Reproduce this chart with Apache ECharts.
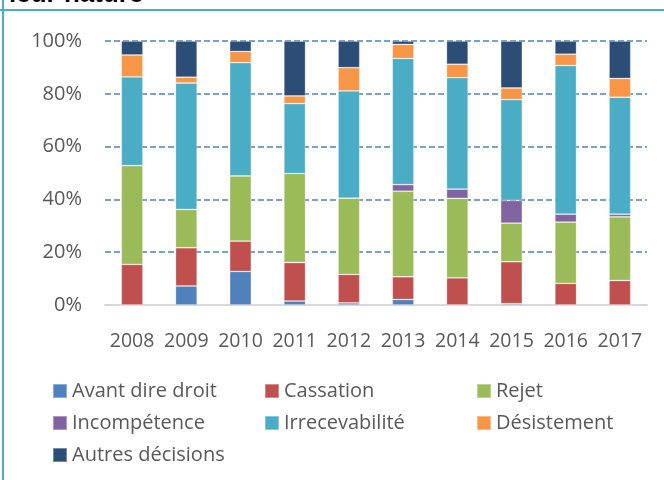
<!DOCTYPE html>
<html>
  <head>
    <meta charset="utf-8" />
    <title>Décisions selon leur nature</title>
    <script src="https://cdn.jsdelivr.net/npm/echarts@6/dist/echarts.min.js"></script>
    <style>
      body {
        margin: 0;
        padding: 0;
        background: #ffffff;
      }
      #main {
        width: 664px;
        height: 480px;
      }
    </style>
  </head>
  <body>
    <div id="main"></div>
    <script type="text/javascript">
      // données (en %)
      var annees = ["2008", "2009", "2010", "2011", "2012", "2013", "2014", "2015", "2016", "2017"];
      var avantDireDroit = [0, 7.2, 12.7, 1.5, 0.8, 2.1, 0, 0.5, 0, 0];
      var cassation = [15.4, 14.5, 11.5, 14.6, 10.8, 8.6, 10.3, 15.9, 8.2, 9.3];
      var rejet = [37.4, 14.5, 24.7, 33.7, 28.9, 32.4, 30.1, 14.6, 23.2, 24.1];
      var incompetence = [0, 0, 0, 0, 0, 2.5, 3.5, 8.6, 3.0, 1.0];
      var irrecevabilite = [33.6, 47.9, 42.9, 26.5, 40.6, 47.8, 42.2, 38.2, 56.3, 44.3];
      var desistement = [8.3, 2.2, 4.2, 2.9, 8.8, 5.3, 5.1, 4.4, 4.3, 7.1];
      var autres = [5.3, 13.7, 4.0, 20.8, 10.1, 1.3, 8.8, 17.8, 5.0, 14.2];

      var noms = ["Avant dire droit", "Cassation", "Rejet", "Incompétence", "Irrecevabilité", "Désistement", "Autres décisions"];
      var couleurs = ["#4f81bd", "#c0504d", "#9bbb59", "#8064a2", "#4bacc6", "#f79646", "#2c4d75"];
      var valeurs = [avantDireDroit, cassation, rejet, incompetence, irrecevabilite, desistement, autres];

      var police = "'Open Sans', sans-serif";
      var gris = "#595959";

      var myChart = echarts.init(document.getElementById("main"));

      // une légende par colonne
      function legende(left, data) {
        return {
          orient: "vertical",
          left: left,
          top: 376,
          itemWidth: 14,
          itemHeight: 14,
          itemGap: 12,
          icon: "rect",
          data: data,
          textStyle: { fontFamily: police, fontSize: 20, lineHeight: 20, color: gris },
        };
      }

      var option = {
        animation: false,
        grid: { left: 105, right: 17, top: 41, bottom: 175 },
        legend: [
          legende(47, [noms[0], noms[3], noms[6]]),
          legende(259, [noms[1], noms[4]]),
          legende(471, [noms[2], noms[5]]),
        ],
        xAxis: {
          type: "category",
          data: annees,
          axisLine: { lineStyle: { color: "#d9d9d9", width: 2 } },
          axisTick: { show: false },
          axisLabel: { interval: 0, fontFamily: police, fontSize: 19.5, color: gris, margin: 26 },
        },
        yAxis: {
          type: "value",
          min: 0,
          max: 100,
          interval: 20,
          axisLine: { show: false },
          axisTick: { show: false },
          axisLabel: { formatter: "{value}%", fontFamily: police, fontSize: 20, color: gris, margin: 23 },
          splitLine: { lineStyle: { color: "#4f81bd", width: 1.5, type: [6, 3] } },
        },
        graphic: [
          {
            type: "text",
            left: 9,
            top: -18,
            style: { text: "leur nature", font: "bold 26px 'Liberation Sans', Arial, sans-serif", fill: "#000000" },
          },
          { type: "rect", shape: { x: 0, y: 9, width: 664, height: 2 }, style: { fill: "#4bacc6" } },
          { type: "rect", shape: { x: 2, y: 0, width: 2, height: 480 }, style: { fill: "#4bacc6" } },
        ],
        series: noms.map(function (nom, i) {
          return {
            name: nom,
            type: "bar",
            stack: "total",
            barWidth: "40%",
            data: valeurs[i],
            itemStyle: { color: couleurs[i], borderColor: "rgba(255,255,255,0.35)", borderWidth: 0.8 },
          };
        }),
      };

      myChart.setOption(option);
    </script>
  </body>
</html>
